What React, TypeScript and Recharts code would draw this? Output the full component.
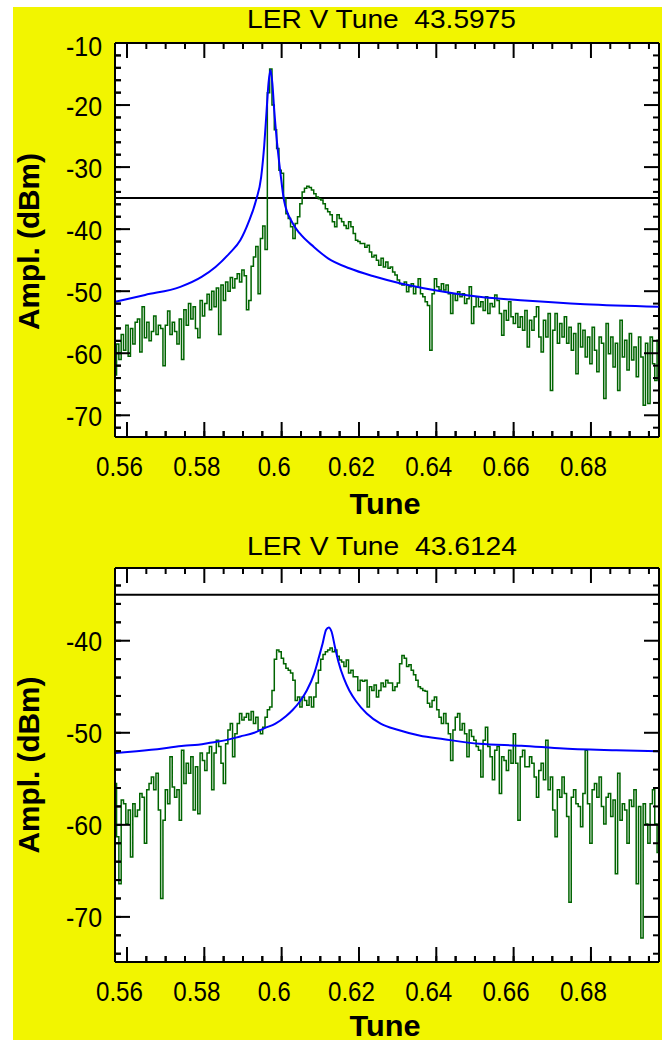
import React from 'react';
import { LineChart, Line, XAxis, YAxis, ReferenceLine } from 'recharts';

// ---------- shared axis values ----------
const TUNE_START = 0.557;
const TUNE_STEP = 0.0006;
const X_DOMAIN: [number, number] = [0.5569, 0.6976];
const X_TICKS = [0.56, 0.565, 0.57, 0.575, 0.58, 0.585, 0.59, 0.595, 0.6, 0.605, 0.61, 0.615, 0.62, 0.625, 0.63, 0.635, 0.64, 0.645, 0.65, 0.655, 0.66, 0.665, 0.67, 0.675, 0.68, 0.685, 0.69, 0.695];
const X_LABELS = [0.56, 0.58, 0.6, 0.62, 0.64, 0.66, 0.68];
const THRESHOLD_DB = -35;

// ---------- panel 1 ----------
const P1_TITLE = 'LER V Tune  43.5975';
const P1_Y_DOMAIN: [number, number] = [-73.5, -10];
const P1_Y_TICKS = [-72, -70, -68, -66, -64, -62, -60, -58, -56, -54, -52, -50, -48, -46, -44, -42, -40, -38, -36, -34, -32, -30, -28, -26, -24, -22, -20, -18, -16, -14, -12, -10];
const P1_Y_LABELS = [-70, -60, -50, -40, -30, -20, -10];
const P1_GREEN = [
  -63.5, -58.5, -61.0, -57.0, -59.5, -55.5, -60.5, -56.0, -58.5, -55.0,
  -54.5, -59.8, -52.5, -57.5, -55.0, -58.0, -56.5, -54.0, -57.0, -55.5,
  -56.0, -62.0, -55.5, -53.2, -57.0, -55.0, -56.5, -58.5, -54.5, -61.0,
  -53.0, -55.5, -52.0, -54.5, -52.5, -56.0, -57.5, -51.5, -54.0, -52.0,
  -50.5, -53.0, -50.0, -52.5, -49.5, -57.0, -49.0, -51.5, -48.5, -50.0,
  -47.8, -49.5, -48.0, -47.2, -48.5, -46.6, -47.5, -53.0, -51.5, -46.0,
  -44.5, -42.8, -50.4, -41.5, -39.5, -43.3, -18.0, -14.2, -20.0, -24.0,
  -27.0, -30.5, -31.0, -35.0, -37.5, -38.3, -39.6, -41.5, -39.1, -38.0,
  -35.9, -34.0, -33.4, -33.1, -33.3, -33.7, -34.3, -34.8, -35.1, -35.3,
  -35.9, -36.7, -37.2, -37.7, -38.8, -39.6, -37.7, -38.3, -38.8, -39.4,
  -39.9, -38.8, -39.6, -40.7, -41.8, -42.0, -42.3, -42.3, -42.9, -42.6,
  -43.7, -44.5, -44.2, -45.0, -45.8, -44.7, -46.1, -45.3, -46.3, -46.1,
  -46.9, -47.4, -48.2, -48.8, -49.0, -48.5, -50.1, -49.3, -48.8, -50.4,
  -49.3, -48.0, -50.4, -50.9, -51.7, -52.3, -59.5, -50.4, -48.0, -49.3,
  -49.8, -48.8, -49.8, -49.0, -50.4, -53.6, -50.4, -51.5, -50.1, -50.9,
  -50.4, -52.0, -51.2, -49.3, -55.2, -52.5, -50.9, -52.5, -51.7, -53.1,
  -50.9, -53.6, -52.0, -52.5, -50.6, -51.5, -53.6, -57.1, -53.1, -54.7,
  -51.7, -54.1, -55.2, -53.6, -55.8, -54.1, -56.3, -53.1, -59.0, -54.7,
  -56.3, -54.1, -52.5, -57.4, -59.8, -54.7, -57.4, -53.6, -66.0, -56.3,
  -53.6, -58.4, -55.2, -57.4, -54.1, -58.4, -55.8, -59.5, -56.8, -63.3,
  -55.2, -59.0, -56.3, -60.6, -57.4, -61.7, -55.8, -59.5, -63.0, -57.4,
  -58.4, -67.3, -55.2, -60.1, -57.4, -62.2, -58.4, -66.0, -54.7, -60.6,
  -57.9, -62.7, -56.8, -61.1, -59.0, -63.8, -57.4, -60.6, -68.4, -58.4,
  -68.1, -57.4, -61.7, -64.4, -57.9,
];
const P1_BLUE_TUNE = [0.557, 0.5647, 0.5738, 0.5793, 0.5829, 0.5865, 0.5893, 0.5915, 0.5934, 0.5947, 0.5955, 0.5961, 0.5966, 0.5971, 0.5976, 0.5981, 0.5988, 0.5997, 0.6006, 0.6029, 0.6047, 0.6084, 0.612, 0.6175, 0.6238, 0.6311, 0.6393, 0.6511, 0.6629, 0.6784, 0.6975];
const P1_BLUE_DB = [-51.7, -50.6, -49.3, -47.7, -46.1, -43.9, -41.8, -38.8, -35.3, -31.6, -26.5, -21.0, -16.5, -14.3, -16.5, -21.0, -26.0, -31.0, -35.3, -39.1, -40.7, -42.9, -44.7, -46.3, -47.6, -48.8, -49.8, -50.9, -51.5, -52.1, -52.5];

// ---------- panel 2 ----------
const P2_TITLE = 'LER V Tune  43.6124';
const P2_Y_DOMAIN: [number, number] = [-74.9, -32.1];
const P2_Y_TICKS = [-74, -72, -70, -68, -66, -64, -62, -60, -58, -56, -54, -52, -50, -48, -46, -44, -42, -40, -38, -36, -34];
const P2_Y_LABELS = [-70, -60, -50, -40];
const P2_GREEN = [
  -55.5, -61.3, -66.4, -57.3, -57.7, -59.9, -58.4, -63.5, -57.7, -59.1,
  -58.4, -56.6, -57.0, -62.0, -56.2, -55.5, -54.8, -56.2, -54.4, -58.4,
  -68.0, -59.5, -56.2, -57.7, -52.6, -55.9, -57.0, -56.2, -59.5, -51.9,
  -55.5, -53.3, -54.4, -52.6, -58.4, -53.7, -58.8, -52.2, -53.0, -54.1,
  -52.2, -51.5, -56.2, -52.2, -50.8, -51.5, -53.3, -55.5, -51.2, -49.7,
  -49.0, -52.6, -50.1, -49.0, -47.9, -48.6, -48.3, -47.9, -48.6, -47.7,
  -49.0, -48.3, -49.7, -50.1, -49.4, -48.3, -47.5, -47.2, -45.4, -42.0,
  -41.0, -41.2, -41.9, -42.5, -43.0, -43.2, -43.5, -44.3, -46.5, -46.1,
  -47.2, -46.1, -46.5, -47.0, -46.1, -47.2, -46.1, -44.6, -43.2, -42.0,
  -41.5, -41.2, -41.0, -40.8, -41.2, -41.0, -41.7, -42.1, -42.3, -42.8,
  -42.1, -43.5, -43.2, -43.9, -43.9, -45.4, -44.3, -44.4, -44.3, -47.2,
  -45.0, -45.4, -44.8, -46.1, -45.4, -44.6, -45.0, -44.3, -44.6, -44.6,
  -45.4, -45.0, -44.6, -42.5, -41.6, -41.9, -42.8, -42.6, -43.2, -43.7,
  -44.3, -45.0, -45.2, -45.4, -45.5, -46.8, -47.2, -46.5, -46.1, -47.5,
  -48.3, -49.0, -47.9, -49.0, -50.1, -53.0, -49.7, -48.3, -47.9, -49.7,
  -49.0, -50.1, -52.6, -49.7, -50.4, -50.8, -51.5, -51.9, -54.8, -50.8,
  -49.4, -51.5, -52.6, -55.1, -51.9, -51.5, -56.6, -52.6, -53.0, -54.1,
  -51.9, -53.3, -50.1, -53.3, -59.5, -52.6, -51.9, -53.7, -53.7, -52.6,
  -53.3, -54.8, -57.0, -54.1, -53.3, -55.1, -50.8, -56.2, -54.8, -58.4,
  -61.3, -56.2, -57.0, -54.8, -56.6, -59.1, -68.4, -57.0, -56.2, -57.7,
  -58.0, -60.2, -56.6, -51.9, -57.7, -62.0, -56.2, -55.5, -57.0, -54.8,
  -58.0, -59.9, -57.0, -56.6, -59.1, -57.3, -65.3, -54.4, -59.5, -57.7,
  -58.4, -62.0, -57.3, -58.0, -56.2, -66.4, -58.0, -72.3, -57.7, -59.9,
  -62.0, -57.7, -56.2, -59.9, -63.0,
];
const P2_BLUE_TUNE = [0.557, 0.5625, 0.5693, 0.5747, 0.5784, 0.582, 0.5856, 0.5893, 0.5929, 0.5956, 0.5984, 0.6011, 0.6029, 0.6047, 0.6065, 0.6084, 0.6097, 0.6106, 0.6115, 0.6122, 0.6129, 0.6138, 0.6147, 0.6161, 0.6175, 0.6193, 0.622, 0.6256, 0.6302, 0.6356, 0.642, 0.6511, 0.662, 0.6729, 0.6865, 0.6975];
const P2_BLUE_DB = [-52.2, -52.0, -51.7, -51.4, -51.3, -51.05, -50.8, -50.4, -50.0, -49.5, -49.0, -48.2, -47.5, -46.6, -45.4, -43.6, -41.7, -40.3, -38.8, -38.55, -39.0, -40.7, -42.3, -44.1, -45.4, -46.6, -47.9, -49.0, -49.7, -50.3, -50.7, -51.2, -51.4, -51.7, -51.9, -52.0];

// ---------- styling ----------
const YELLOW = '#f2f500';
const GREEN = '#006400';
const BLUE = '#0000ff';
const FONT = "'Liberation Sans', Arial, Helvetica, sans-serif";
const MAJOR = 15;
const MINOR = 6;
const TICK_FONT = 28;
const PLOT_LEFT = 102;
const PLOT_W = 544;
const PLOT_H = 394;

const isIn = (arr: number[], v: number) => arr.some((a) => Math.abs(a - v) < 1e-6);
const fmt = (v: number) => String(Math.round(v * 1000) / 1000);
const labelWidth = (s: string) => {
  let w = 0;
  for (const c of s) w += c === '.' ? 5 : c === '-' ? 8 : 14;
  return w;
};

// built-in tick lines give the short (minor) inward ticks; the renderer adds
// the long major ticks, the mirrored ticks and the labels
const bottomTick = (props: any) => {
  const x = Number(props.x);
  const y = Number(props.y);
  const v = props.payload.value;
  const major = isIn(X_LABELS, v);
  const len = major ? MAJOR : MINOR;
  const s = fmt(v);
  return (
    <g>
      <line x1={x} y1={y} x2={x} y2={y - len} stroke="#000000" strokeWidth={2} />
      <line x1={x} y1={y - PLOT_H} x2={x} y2={y - PLOT_H + len} stroke="#000000" strokeWidth={2} />
      {major && (
        <text x={x - 7.5} y={y + 39} textAnchor="middle" fontFamily={FONT} fontSize={TICK_FONT} fill="#000"
          textLength={labelWidth(s)} lengthAdjust="spacingAndGlyphs">{s}</text>
      )}
    </g>
  );
};

const makeLeftTick = (labels: number[], top: number) => (props: any) => {
  const x = Number(props.x);
  const y = Number(props.y);
  const v = props.payload.value;
  const major = isIn(labels, v);
  const len = major ? MAJOR : MINOR;
  const s = fmt(v);
  const base = Math.abs(v - top) < 1e-6 ? y + 12.5 : y + 10.5;
  return (
    <g>
      <line x1={x} y1={y} x2={x + len} y2={y} stroke="#000000" strokeWidth={2} />
      <line x1={x + PLOT_W} y1={y} x2={x + PLOT_W - len} y2={y} stroke="#000000" strokeWidth={2} />
      {major && (
        <text x={x - 13} y={base} textAnchor="end" fontFamily={FONT} fontSize={TICK_FONT} fill="#000"
          textLength={labelWidth(s)} lengthAdjust="spacingAndGlyphs">{s}</text>
      )}
    </g>
  );
};

const P1_LEFT_TICK = makeLeftTick(P1_Y_LABELS, P1_Y_DOMAIN[1]);
const P2_LEFT_TICK = makeLeftTick(P2_Y_LABELS, P2_Y_DOMAIN[1]);

const AXIS_LINE = { stroke: '#000', strokeWidth: 2 };
const TICK_LINE = { stroke: '#000', strokeWidth: 2 };

const P1_GREEN_DATA = P1_GREEN.map((amp, i) => ({ tune: TUNE_START + i * TUNE_STEP, amp }));
const P1_BLUE_DATA = P1_BLUE_TUNE.map((tune, i) => ({ tune, amp: P1_BLUE_DB[i] }));
const P2_GREEN_DATA = P2_GREEN.map((amp, i) => ({ tune: TUNE_START + i * TUNE_STEP, amp }));
const P2_BLUE_DATA = P2_BLUE_TUNE.map((tune, i) => ({ tune, amp: P2_BLUE_DB[i] }));

const P1_MARGIN = { top: 36, right: 3, bottom: 0, left: 0 };
const P2_MARGIN = { top: 41, right: 3, bottom: 0, left: 0 };

type PanelProps = {
  top: number;
  height: number;
  margin: { top: number; right: number; bottom: number; left: number };
  bottomAxis: number;
  yDomain: [number, number];
  yTicks: number[];
  leftTick: any;
  greenData: { tune: number; amp: number }[];
  blueData: { tune: number; amp: number }[];
};

function Panel(p: PanelProps) {
  return (
    <div style={{ position: 'absolute', left: 13, top: p.top, width: 649, height: p.height, background: YELLOW }}>
      {/* white plotting area behind the chart */}
      <div style={{ position: 'absolute', left: PLOT_LEFT, top: p.margin.top, width: PLOT_W, height: PLOT_H, background: '#ffffff' }} />
      <div style={{ position: 'absolute', left: 0, top: 0 }}>
        <LineChart width={649} height={p.height} margin={p.margin}>
          <XAxis xAxisId="b" orientation="bottom" type="number" dataKey="tune" domain={X_DOMAIN} allowDataOverflow
            ticks={X_TICKS} interval={0} height={p.bottomAxis} tickLine={TICK_LINE} tickSize={-MINOR} tickMargin={MINOR}
            axisLine={AXIS_LINE} tick={bottomTick} />
          <YAxis yAxisId="l" orientation="left" type="number" domain={p.yDomain} allowDataOverflow
            ticks={p.yTicks} interval={0} width={PLOT_LEFT} tickLine={TICK_LINE} tickSize={-MINOR} tickMargin={MINOR}
            axisLine={AXIS_LINE} tick={p.leftTick} />
          <ReferenceLine xAxisId="b" yAxisId="l" y={p.yDomain[1]} stroke="#000" strokeWidth={2} />
          <ReferenceLine xAxisId="b" yAxisId="l" x={X_DOMAIN[1]} stroke="#000" strokeWidth={2} />
          <ReferenceLine xAxisId="b" yAxisId="l" y={THRESHOLD_DB} stroke="#000" strokeWidth={2} />
          <Line xAxisId="b" yAxisId="l" data={p.greenData} dataKey="amp" type="step" stroke={GREEN} strokeWidth={1.5}
            dot={false} isAnimationActive={false} />
          <Line xAxisId="b" yAxisId="l" data={p.blueData} dataKey="amp" type="monotone" stroke={BLUE} strokeWidth={2}
            dot={false} isAnimationActive={false} />
        </LineChart>
      </div>
    </div>
  );
}

export default function App() {
  return (
    <div style={{ position: 'absolute', left: 0, top: 0, width: 662, height: 1040, background: '#fff' }}>
      <Panel top={7} height={520} margin={P1_MARGIN} bottomAxis={90} yDomain={P1_Y_DOMAIN} yTicks={P1_Y_TICKS}
        leftTick={P1_LEFT_TICK} greenData={P1_GREEN_DATA} blueData={P1_BLUE_DATA} />
      <Panel top={527} height={513} margin={P2_MARGIN} bottomAxis={78} yDomain={P2_Y_DOMAIN} yTicks={P2_Y_TICKS}
        leftTick={P2_LEFT_TICK} greenData={P2_GREEN_DATA} blueData={P2_BLUE_DATA} />
      <svg width={662} height={1040} style={{ position: 'absolute', left: 0, top: 0, pointerEvents: 'none' }}>
        <g fontFamily={FONT} fill="#000">
          <text x={381.5} y={28} textAnchor="middle" fontSize={25} textLength={269} lengthAdjust="spacingAndGlyphs"
            style={{ whiteSpace: 'pre' }}>{P1_TITLE}</text>
          <text x={382} y={555} textAnchor="middle" fontSize={25} textLength={270} lengthAdjust="spacingAndGlyphs"
            style={{ whiteSpace: 'pre' }}>{P2_TITLE}</text>
          <text x={38.5} y={241.5} transform="rotate(-90, 38.5, 241.5)" textAnchor="middle" fontSize={29}
            fontWeight="bold" textLength={177} lengthAdjust="spacingAndGlyphs">Ampl. (dBm)</text>
          <text x={38.5} y={765} transform="rotate(-90, 38.5, 765)" textAnchor="middle" fontSize={29}
            fontWeight="bold" textLength={177} lengthAdjust="spacingAndGlyphs">Ampl. (dBm)</text>
          <text x={385} y={514} textAnchor="middle" fontSize={30} fontWeight="bold" textLength={71}
            lengthAdjust="spacingAndGlyphs">Tune</text>
          <text x={385} y={1036} textAnchor="middle" fontSize={30} fontWeight="bold" textLength={71}
            lengthAdjust="spacingAndGlyphs">Tune</text>
        </g>
      </svg>
    </div>
  );
}
